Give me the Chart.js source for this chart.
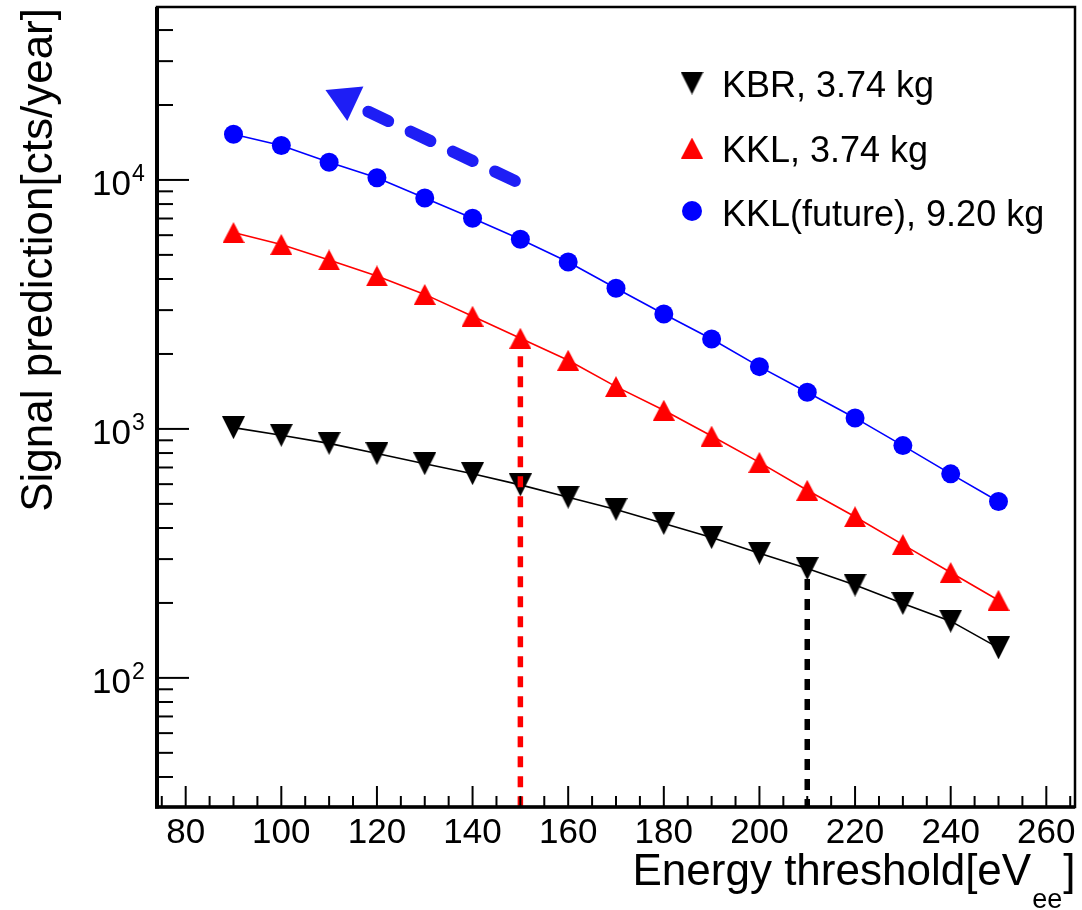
<!DOCTYPE html>
<html>
<head>
<meta charset="utf-8">
<script src="https://cdn.jsdelivr.net/npm/chart.js@4.4.1/dist/chart.umd.min.js"></script>
<style>
  html, body { margin: 0; padding: 0; background: #fff; }
  #wrap { width: 1082px; height: 910px; position: relative; }
</style>
</head>
<body>
<div id="wrap"><canvas id="myChart"></canvas></div>
<script>
// energy threshold [eVee]
const thresholds = [90, 100, 110, 120, 130, 140, 150, 160, 170, 180, 190, 200, 210, 220, 230, 240, 250];
// signal prediction [cts/year]
const kbrCounts = [1012, 943, 875, 796, 725, 661, 596, 532, 475, 417, 366, 317, 275, 236, 199, 169, 132];
const kklCounts = [6150, 5508, 4771, 4117, 3470, 2836, 2314, 1888, 1479, 1189, 936, 734, 567, 444, 343, 265, 205];
const kklFutureCounts = [15260, 13740, 11780, 10210, 8467, 7019, 5779, 4680, 3674, 2896, 2298, 1779, 1404, 1107, 857, 660, 511];
const seriesLabels = ['KBR, 3.74 kg', 'KKL, 3.74 kg', 'KKL(future), 9.20 kg'];

const xTicks = [80, 100, 120, 140, 160, 180, 200, 220, 240, 260];
const yTicks = [100, 1000, 10000];
const xRange = [74, 266];
const yRange = [30.3, 49500];

// threshold cuts (dashed) and the "lower threshold" arrow, in data units
const kklCut = [150, 2314];
const kbrCut = [210, 275];
const arrowTail = [[118.2, 18800], [149.2, 9840]];
const arrowHead = [113.4, 21100];

const FONT = '"Liberation Sans", Arial, Helvetica, sans-serif';
const arrowBlue = 'rgb(30,30,245)';

// ROOT style markers, centred on their bounding box
function triMarker(w, h, color, down) {
    const c = document.createElement('canvas');
    c.width = w; c.height = h;
    const g = c.getContext('2d');
    g.fillStyle = color;
    g.beginPath();
    if (down) { g.moveTo(0, 0); g.lineTo(w, 0); g.lineTo(w / 2, h); }
    else { g.moveTo(w / 2, 0); g.lineTo(w, h); g.lineTo(0, h); }
    g.closePath();
    g.fill();
    return c;
}
const kbrMarker = triMarker(23, 23, '#000000', true);
const kklMarker = triMarker(22, 21, '#ff0000', false);

function pts(xs, ys) { return xs.map((x, i) => ({ x: x, y: ys[i] })); }

const rootAxes = {
    id: 'rootAxes',
    afterDraw(chart) {
        const { ctx, chartArea: a } = chart;
        const xs = chart.scales.x, ys = chart.scales.y;
        ctx.save();
        ctx.strokeStyle = '#000';
        ctx.fillStyle = '#000';

        // frame
        ctx.lineWidth = 2.5;
        ctx.strokeRect(a.left, a.top, a.right - a.left, a.bottom - a.top);
        ctx.lineWidth = 4;
        ctx.beginPath(); ctx.moveTo(a.left, a.top); ctx.lineTo(a.left, a.bottom + 1.5); ctx.stroke();
        ctx.lineWidth = 3.5;
        ctx.beginPath(); ctx.moveTo(a.left - 2, a.bottom); ctx.lineTo(a.right, a.bottom); ctx.stroke();

        // x ticks (inside)
        ctx.lineWidth = 2;
        for (let v = 75; v < xRange[1]; v += 5) {
            const px = xs.getPixelForValue(v);
            const len = xTicks.includes(v) ? 21 : 11;
            ctx.beginPath(); ctx.moveTo(px, a.bottom); ctx.lineTo(px, a.bottom - len); ctx.stroke();
        }
        // y ticks (inside)
        for (let d = 1; d <= 4; d++) {
            for (let m = 1; m <= 9; m++) {
                const v = m * Math.pow(10, d);
                if (v <= yRange[0] || v >= yRange[1]) continue;
                const py = ys.getPixelForValue(v);
                const len = m === 1 ? 32 : 16;
                ctx.beginPath(); ctx.moveTo(a.left, py); ctx.lineTo(a.left + len, py); ctx.stroke();
            }
        }

        // x labels
        ctx.font = '35px ' + FONT;
        ctx.textAlign = 'center';
        ctx.textBaseline = 'alphabetic';
        xTicks.forEach(v => ctx.fillText(String(v), xs.getPixelForValue(v), 843));

        // y labels 10^n
        yTicks.forEach(v => {
            const py = ys.getPixelForValue(v);
            const e = Math.round(Math.log10(v));
            ctx.font = '35px ' + FONT;
            ctx.textAlign = 'right';
            ctx.fillText('10', 131, py + 15.5);
            ctx.font = '23px ' + FONT;
            ctx.textAlign = 'left';
            ctx.fillText(String(e), 132, py + 1);
        });

        // x title with subscript
        ctx.font = '44px ' + FONT;
        ctx.textAlign = 'left';
        const main = 'Energy threshold[eV';
        const x0 = 632.5;
        ctx.fillText(main, x0, 885);
        const w1 = ctx.measureText(main).width;
        ctx.font = '27px ' + FONT;
        ctx.fillText('ee', x0 + w1 + 1, 908);
        const w2 = ctx.measureText('ee').width;
        ctx.font = '44px ' + FONT;
        ctx.fillText(']', x0 + w1 + 2 + w2, 885);

        // y title
        ctx.save();
        ctx.translate(52, 8);
        ctx.rotate(-Math.PI / 2);
        ctx.textAlign = 'right';
        ctx.font = '44px ' + FONT;
        ctx.fillText('Signal prediction[cts/year]', 0, 0);
        ctx.restore();

        // legend
        const rows = [
            { m: kbrMarker, my: 83, ty: 97 },
            { m: kklMarker, my: 148, ty: 162 },
            { m: null, my: 211, ty: 226 }
        ];
        ctx.font = '36px ' + FONT;
        ctx.textAlign = 'left';
        rows.forEach((r, i) => {
            if (r.m) {
                ctx.drawImage(r.m, 692 - r.m.width / 2, r.my - r.m.height / 2);
            } else {
                ctx.fillStyle = '#0000ff';
                ctx.beginPath(); ctx.arc(692, r.my, 10, 0, Math.PI * 2); ctx.fill();
                ctx.fillStyle = '#000';
            }
            ctx.fillText(seriesLabels[i], 722, r.ty);
        });
        ctx.restore();
    }
};

const config = {
    type: 'line',
    data: {
        datasets: [
            {
                label: 'kbr cut', data: [{ x: kbrCut[0], y: kbrCut[1] }, { x: kbrCut[0], y: yRange[0] }],
                borderColor: '#000', borderWidth: 5.5, borderDash: [11, 9], borderDashOffset: 9.4,
                pointRadius: 0, order: 0
            },
            {
                label: 'kkl cut', data: [{ x: kklCut[0], y: kklCut[1] }, { x: kklCut[0], y: yRange[0] }],
                borderColor: '#ff0000', borderWidth: 5.5, borderDash: [11, 9], borderDashOffset: 2,
                pointRadius: 0, order: 0
            },
            {
                label: 'arrow', data: arrowTail.map(p => ({ x: p[0], y: p[1] })),
                borderColor: arrowBlue, borderWidth: 12, borderDash: [22, 24.7], borderCapStyle: 'round',
                pointRadius: 0, order: 0
            },
            {
                label: 'arrow head', data: [{ x: arrowHead[0], y: arrowHead[1] }], showLine: false,
                pointStyle: 'triangle', rotation: 295, pointRadius: 22, pointBorderWidth: 0,
                pointBackgroundColor: arrowBlue, pointBorderColor: arrowBlue, order: 0
            },
            {
                label: seriesLabels[0], data: pts(thresholds, kbrCounts),
                borderColor: '#000', backgroundColor: '#000', borderWidth: 1.6,
                pointStyle: kbrMarker, pointRadius: 12, order: 1
            },
            {
                label: seriesLabels[1], data: pts(thresholds, kklCounts),
                borderColor: '#ff0000', backgroundColor: '#ff0000', borderWidth: 1.6,
                pointStyle: kklMarker, pointRadius: 11, order: 1
            },
            {
                label: seriesLabels[2], data: pts(thresholds, kklFutureCounts),
                borderColor: '#0000ff', backgroundColor: '#0000ff', borderWidth: 1.6,
                pointStyle: 'circle', pointRadius: 9.5, pointBorderWidth: 0, order: 1
            }
        ]
    },
    options: {
        responsive: true,
        maintainAspectRatio: false,
        animation: false,
        layout: { autoPadding: false, padding: { left: 157, top: 7, right: 7, bottom: 103 } },
        elements: { line: { tension: 0, fill: false } },
        scales: {
            x: { type: 'linear', min: xRange[0], max: xRange[1], display: false },
            y: { type: 'logarithmic', min: yRange[0], max: yRange[1], display: false }
        },
        plugins: { legend: { display: false }, tooltip: { enabled: false } }
    },
    plugins: [rootAxes]
};

new Chart(document.getElementById('myChart'), config);
</script>
</body>
</html>
